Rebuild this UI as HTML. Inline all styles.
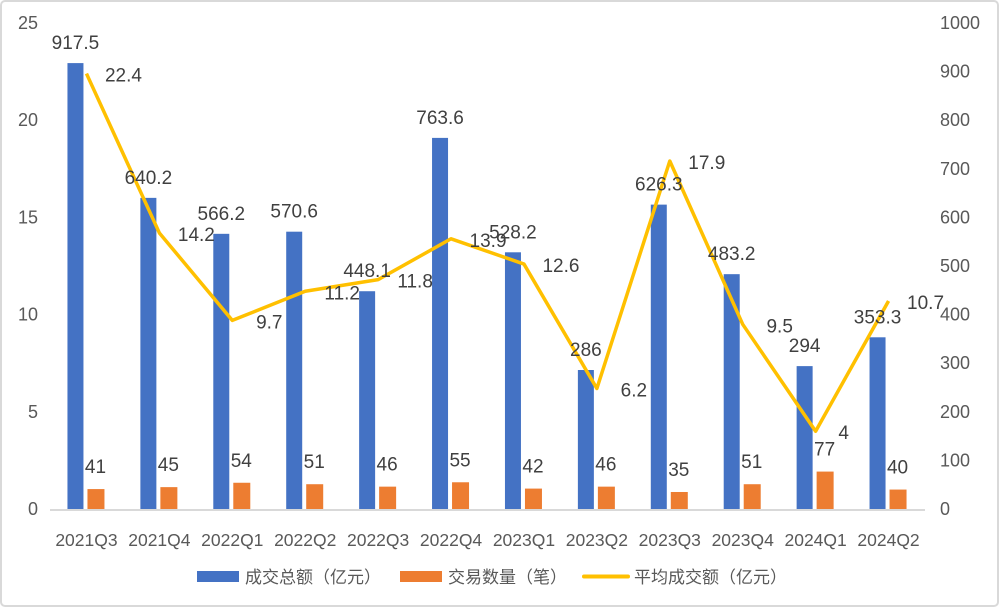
<!DOCTYPE html>
<html><head><meta charset="utf-8">
<style>
html,body{margin:0;padding:0;background:#fff;}
#wrap{position:relative;width:1000px;height:608px;}
svg text{font-family:"Liberation Sans","Noto Sans CJK SC",sans-serif;}
</style></head>
<body>
<div id="wrap">
<svg id="chart" width="1000" height="608" xmlns="http://www.w3.org/2000/svg">
<rect x="1" y="1" width="997" height="605" rx="4" fill="#fff" stroke="#d9d9d9" stroke-width="2"/>
</svg>
</div>
<script>
const categories=["2021Q3","2021Q4","2022Q1","2022Q2","2022Q3","2022Q4","2023Q1","2023Q2","2023Q3","2023Q4","2024Q1","2024Q2"];
const totalAmount=[917.5,640.2,566.2,570.6,448.1,763.6,528.2,286,626.3,483.2,294,353.3];
const dealCount=[41,45,54,51,46,55,42,46,35,51,77,40];
const avgAmount=[22.4,14.2,9.7,11.2,11.8,13.9,12.6,6.2,17.9,9.5,4,10.7];
const leftTicks=[0,5,10,15,20,25];
const rightTicks=[0,100,200,300,400,500,600,700,800,900,1000];

const svg=document.getElementById('chart');
const NS='http://www.w3.org/2000/svg';
const X0=50,X1=925,Y0=509,Y1=23;
const bw=(X1-X0)/categories.length;
const xc=i=>X0+bw*(i+0.5);
const yL=v=>Y0-(v/25)*(Y0-Y1);
const yR=v=>Y0-(v/1000)*(Y0-Y1);
function mk(tag,attrs,text){const e=document.createElementNS(NS,tag);for(const k in attrs)e.setAttribute(k,attrs[k]);if(text!==undefined)e.textContent=text;svg.appendChild(e);return e;}

leftTicks.forEach(t=>{
 const e=mk('text',{x:38,y:yL(t)+6,'text-anchor':'end','font-size':18,fill:'#595959'},t);
 
 
});
rightTicks.forEach(t=>{
 const e=mk('text',{x:940,y:yR(t)+6,'text-anchor':'start','font-size':18,fill:'#595959'},t);
 
 
});

categories.forEach((c,i)=>{
 const cx=xc(i);
 const b=mk('rect',{x:cx-19,y:yR(totalAmount[i]),width:16,height:Y0-yR(totalAmount[i]),fill:'#4472C4'});
 
 
 const o=mk('rect',{x:cx+1,y:yR(dealCount[i]),width:17,height:Y0-yR(dealCount[i]),fill:'#ED7D31'});
 
 
 const l=mk('text',{x:cx,y:546,'text-anchor':'middle','font-size':17.5,fill:'#595959'},c);
 
 
});

const ax=mk('line',{x1:X0,y1:Y0+1,x2:X1,y2:Y0+1,stroke:'#d9d9d9','stroke-width':2});



const pts=avgAmount.map((v,i)=>xc(i)+','+yL(v)).join(' ');
const pl=mk('polyline',{points:pts,fill:'none',stroke:'#FFC000','stroke-width':3.5,'stroke-linejoin':'round'});



categories.forEach((c,i)=>{
 const cx=xc(i);
 const t1=mk('text',{x:cx-11,y:yR(totalAmount[i])-14,'text-anchor':'middle','font-size':19,fill:'#404040'},totalAmount[i]);
 
 
 const t2=mk('text',{x:cx+9,y:yR(dealCount[i])-16,'text-anchor':'middle','font-size':19,fill:'#404040'},dealCount[i]);
 
 
 const off=avgAmount[i]<5?28:37;
 const t3=mk('text',{x:cx+off,y:yL(avgAmount[i])+8,'text-anchor':'middle','font-size':19,fill:'#404040'},avgAmount[i]);
 
 
});

const lg=[
 {x:197,type:'rect',color:'#4472C4',label:'成交总额（亿元）',name:'legend-total'},
 {x:400,type:'rect',color:'#ED7D31',label:'交易数量（笔）',name:'legend-count'},
 {x:584,type:'line',color:'#FFC000',label:'平均成交额（亿元）',name:'legend-avg'}
];
lg.forEach(e=>{
 let s;
 if(e.type==='rect') s=mk('rect',{x:e.x,y:571,width:42,height:11,fill:e.color});
 else s=mk('line',{x1:e.x,y1:576.5,x2:e.x+44,y2:576.5,stroke:e.color,'stroke-width':4,'stroke-linecap':'round'});
 
 
 const t=mk('text',{x:e.x+(e.type==='rect'?48:50),y:583,'font-size':17,fill:'#595959'},e.label);
 
 
});
</script>
</body></html>
